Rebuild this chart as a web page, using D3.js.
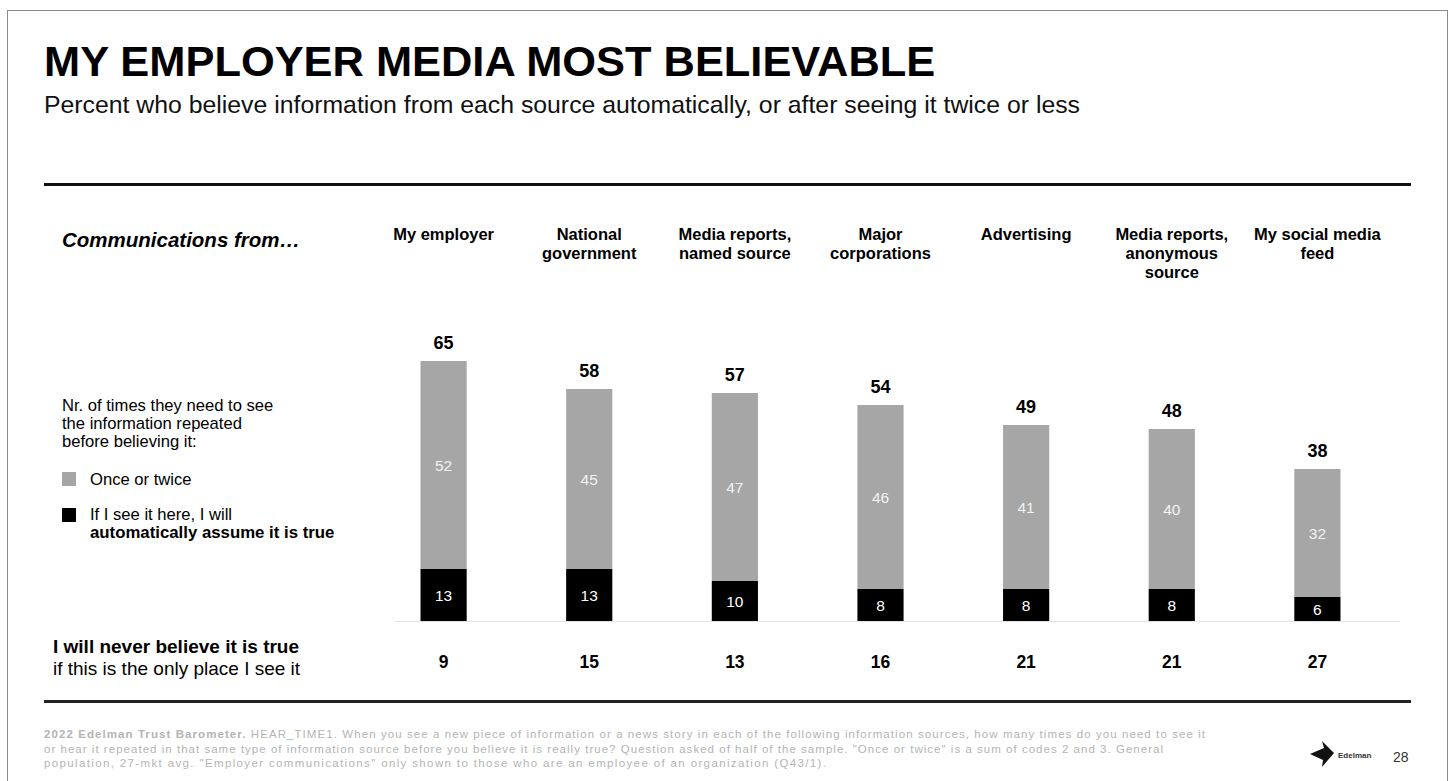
<!DOCTYPE html>
<html>
<head>
<meta charset="utf-8">
<script src="https://cdn.jsdelivr.net/npm/d3@7"></script>
<style>
  body { margin: 0; background: #fff; }
  svg { font-family: "Liberation Sans", Arial, sans-serif; }
</style>
</head>
<body>
<svg width="1450" height="781"></svg>
<script>
const sources = [
  ["My employer"],
  ["National", "government"],
  ["Media reports,", "named source"],
  ["Major", "corporations"],
  ["Advertising"],
  ["Media reports,", "anonymous", "source"],
  ["My social media", "feed"]
];
const automatic = [13, 13, 10, 8, 8, 8, 6];
const onceTwice = [52, 45, 47, 46, 41, 40, 32];
const totals = [65, 58, 57, 54, 49, 48, 38];
const never = [9, 15, 13, 16, 21, 21, 27];

const footer = [
  "When you see a new piece of information or a news story in each of the following information sources, how many times do you need to see it",
  "or hear it repeated in that same type of information source before you believe it is really true? Question asked of half of the sample. \"Once or twice\" is a sum of codes 2 and 3. General",
  "population, 27-mkt avg. \"Employer communications\" only shown to those who are an employee of an organization (Q43/1)."
];
const footerWidths = [1161, 1119, 782];

const svg = d3.select('svg');

// slide frame
svg.append('rect')
  .attr('x', 7.5).attr('y', 10.5)
  .attr('width', 1440).attr('height', 790)
  .attr('fill', 'none').attr('stroke', '#8a8a8a');

svg.append('text')
  .attr('x', 44).attr('y', 76)
  .attr('font-size', 43.4).attr('font-weight', 'bold')
  .attr('fill', '#000')
  .text('MY EMPLOYER MEDIA MOST BELIEVABLE');

svg.append('text')
  .attr('x', 44).attr('y', 113)
  .attr('font-size', 24.8).attr('fill', '#111')
  .text('Percent who believe information from each source automatically, or after seeing it twice or less');

svg.append('rect').attr('x', 44).attr('y', 183).attr('width', 1367).attr('height', 3).attr('fill', '#111');
svg.append('rect').attr('x', 44).attr('y', 700).attr('width', 1367).attr('height', 3).attr('fill', '#222');

svg.append('text')
  .attr('x', 62).attr('y', 247)
  .attr('font-size', 20.5).attr('font-weight', 'bold').attr('font-style', 'italic')
  .text('Communications from…');

const x = d3.scaleBand()
  .domain(d3.range(sources.length))
  .range([371, 1390])
  .paddingInner(0.683)
  .paddingOuter(0.34);

const y = d3.scaleLinear().domain([0, 65]).range([621, 361]);

// baseline
svg.append('line')
  .attr('x1', 395).attr('x2', 1400)
  .attr('y1', 621.5).attr('y2', 621.5)
  .attr('stroke', '#e2e2e2');

// headers
const headers = svg.append('g').selectAll('text')
  .data(sources).enter().append('text')
  .attr('x', (d, i) => x(i) + x.bandwidth() / 2)
  .attr('y', 240)
  .attr('text-anchor', 'middle')
  .attr('font-size', 16.5).attr('font-weight', 'bold');
headers.selectAll('tspan')
  .data(d => d).enter().append('tspan')
  .attr('x', function () { return d3.select(this.parentNode).attr('x'); })
  .attr('dy', (d, i) => i === 0 ? 0 : 19)
  .text(d => d);

const cols = svg.append('g').selectAll('g')
  .data(sources).enter().append('g');

// automatic (black)
cols.append('rect')
  .attr('x', (d, i) => x(i))
  .attr('y', (d, i) => y(automatic[i]))
  .attr('width', x.bandwidth())
  .attr('height', (d, i) => y(0) - y(automatic[i]))
  .attr('fill', '#000');

// once or twice (gray)
cols.append('rect')
  .attr('x', (d, i) => x(i))
  .attr('y', (d, i) => y(automatic[i] + onceTwice[i]))
  .attr('width', x.bandwidth())
  .attr('height', (d, i) => y(automatic[i]) - y(automatic[i] + onceTwice[i]))
  .attr('fill', '#a6a6a6');

cols.append('text')
  .attr('x', (d, i) => x(i) + x.bandwidth() / 2)
  .attr('y', (d, i) => (y(0) + y(automatic[i])) / 2 + 6)
  .attr('text-anchor', 'middle')
  .attr('font-size', 15.5).attr('fill', '#fff')
  .text((d, i) => automatic[i]);

cols.append('text')
  .attr('x', (d, i) => x(i) + x.bandwidth() / 2)
  .attr('y', (d, i) => (y(automatic[i]) + y(automatic[i] + onceTwice[i])) / 2 + 6)
  .attr('text-anchor', 'middle')
  .attr('font-size', 15.5).attr('fill', '#f2f2f2')
  .text((d, i) => onceTwice[i]);

cols.append('text')
  .attr('x', (d, i) => x(i) + x.bandwidth() / 2)
  .attr('y', (d, i) => y(totals[i]) - 12)
  .attr('text-anchor', 'middle')
  .attr('font-size', 18).attr('font-weight', 'bold')
  .text((d, i) => totals[i]);

cols.append('text')
  .attr('x', (d, i) => x(i) + x.bandwidth() / 2)
  .attr('y', 668)
  .attr('text-anchor', 'middle')
  .attr('font-size', 17.5).attr('font-weight', 'bold')
  .text((d, i) => never[i]);

// legend
const legendIntro = ['Nr. of times they need to see', 'the information repeated', 'before believing it:'];
svg.append('g').selectAll('text')
  .data(legendIntro).enter().append('text')
  .attr('x', 62).attr('y', (d, i) => 411 + i * 18)
  .attr('font-size', 16.6)
  .text(d => d);

svg.append('rect').attr('x', 62).attr('y', 472).attr('width', 14).attr('height', 14).attr('fill', '#a6a6a6');
svg.append('text').attr('x', 90).attr('y', 485).attr('font-size', 16.6).text('Once or twice');
svg.append('rect').attr('x', 62).attr('y', 508).attr('width', 14).attr('height', 14).attr('fill', '#000');
svg.append('text').attr('x', 90).attr('y', 520).attr('font-size', 16.6).text('If I see it here, I will');
svg.append('text').attr('x', 90).attr('y', 538).attr('font-size', 16.8).attr('font-weight', 'bold').text('automatically assume it is true');

svg.append('text')
  .attr('x', 53).attr('y', 653)
  .attr('font-size', 19).attr('font-weight', 'bold')
  .text('I will never believe it is true');
svg.append('text')
  .attr('x', 53).attr('y', 675)
  .attr('font-size', 19)
  .text('if this is the only place I see it');

// footer
const foot = svg.append('g').attr('fill', '#b4b4b4').attr('font-size', 11.5);
foot.selectAll('text')
  .data(footer).enter().append('text')
  .attr('x', 44).attr('y', (d, i) => 738 + i * 14.5)
  .attr('textLength', (d, i) => footerWidths[i])
  .attr('lengthAdjust', 'spacing')
  .each(function (d, i) {
    const t = d3.select(this);
    if (i === 0) {
      t.append('tspan').attr('font-weight', 'bold').text('2022 Edelman Trust Barometer. ');
      t.append('tspan').text('HEAR_TIME1. ' + d);
    } else {
      t.text(d);
    }
  });

// logo
const logo = svg.append('g').attr('transform', 'translate(1310,741)');
logo.append('path').attr('d', 'M0,13 L14,7 L12,0 L24,12 L12,26 L13,19 Z').attr('fill', '#111');
logo.append('text').attr('x', 28).attr('y', 17).attr('font-size', 8).attr('font-weight', 'bold').attr('fill', '#333').text('Edelman');
svg.append('text').attr('x', 1393).attr('y', 762).attr('font-size', 14).attr('fill', '#333').text('28');
</script>
</body>
</html>
